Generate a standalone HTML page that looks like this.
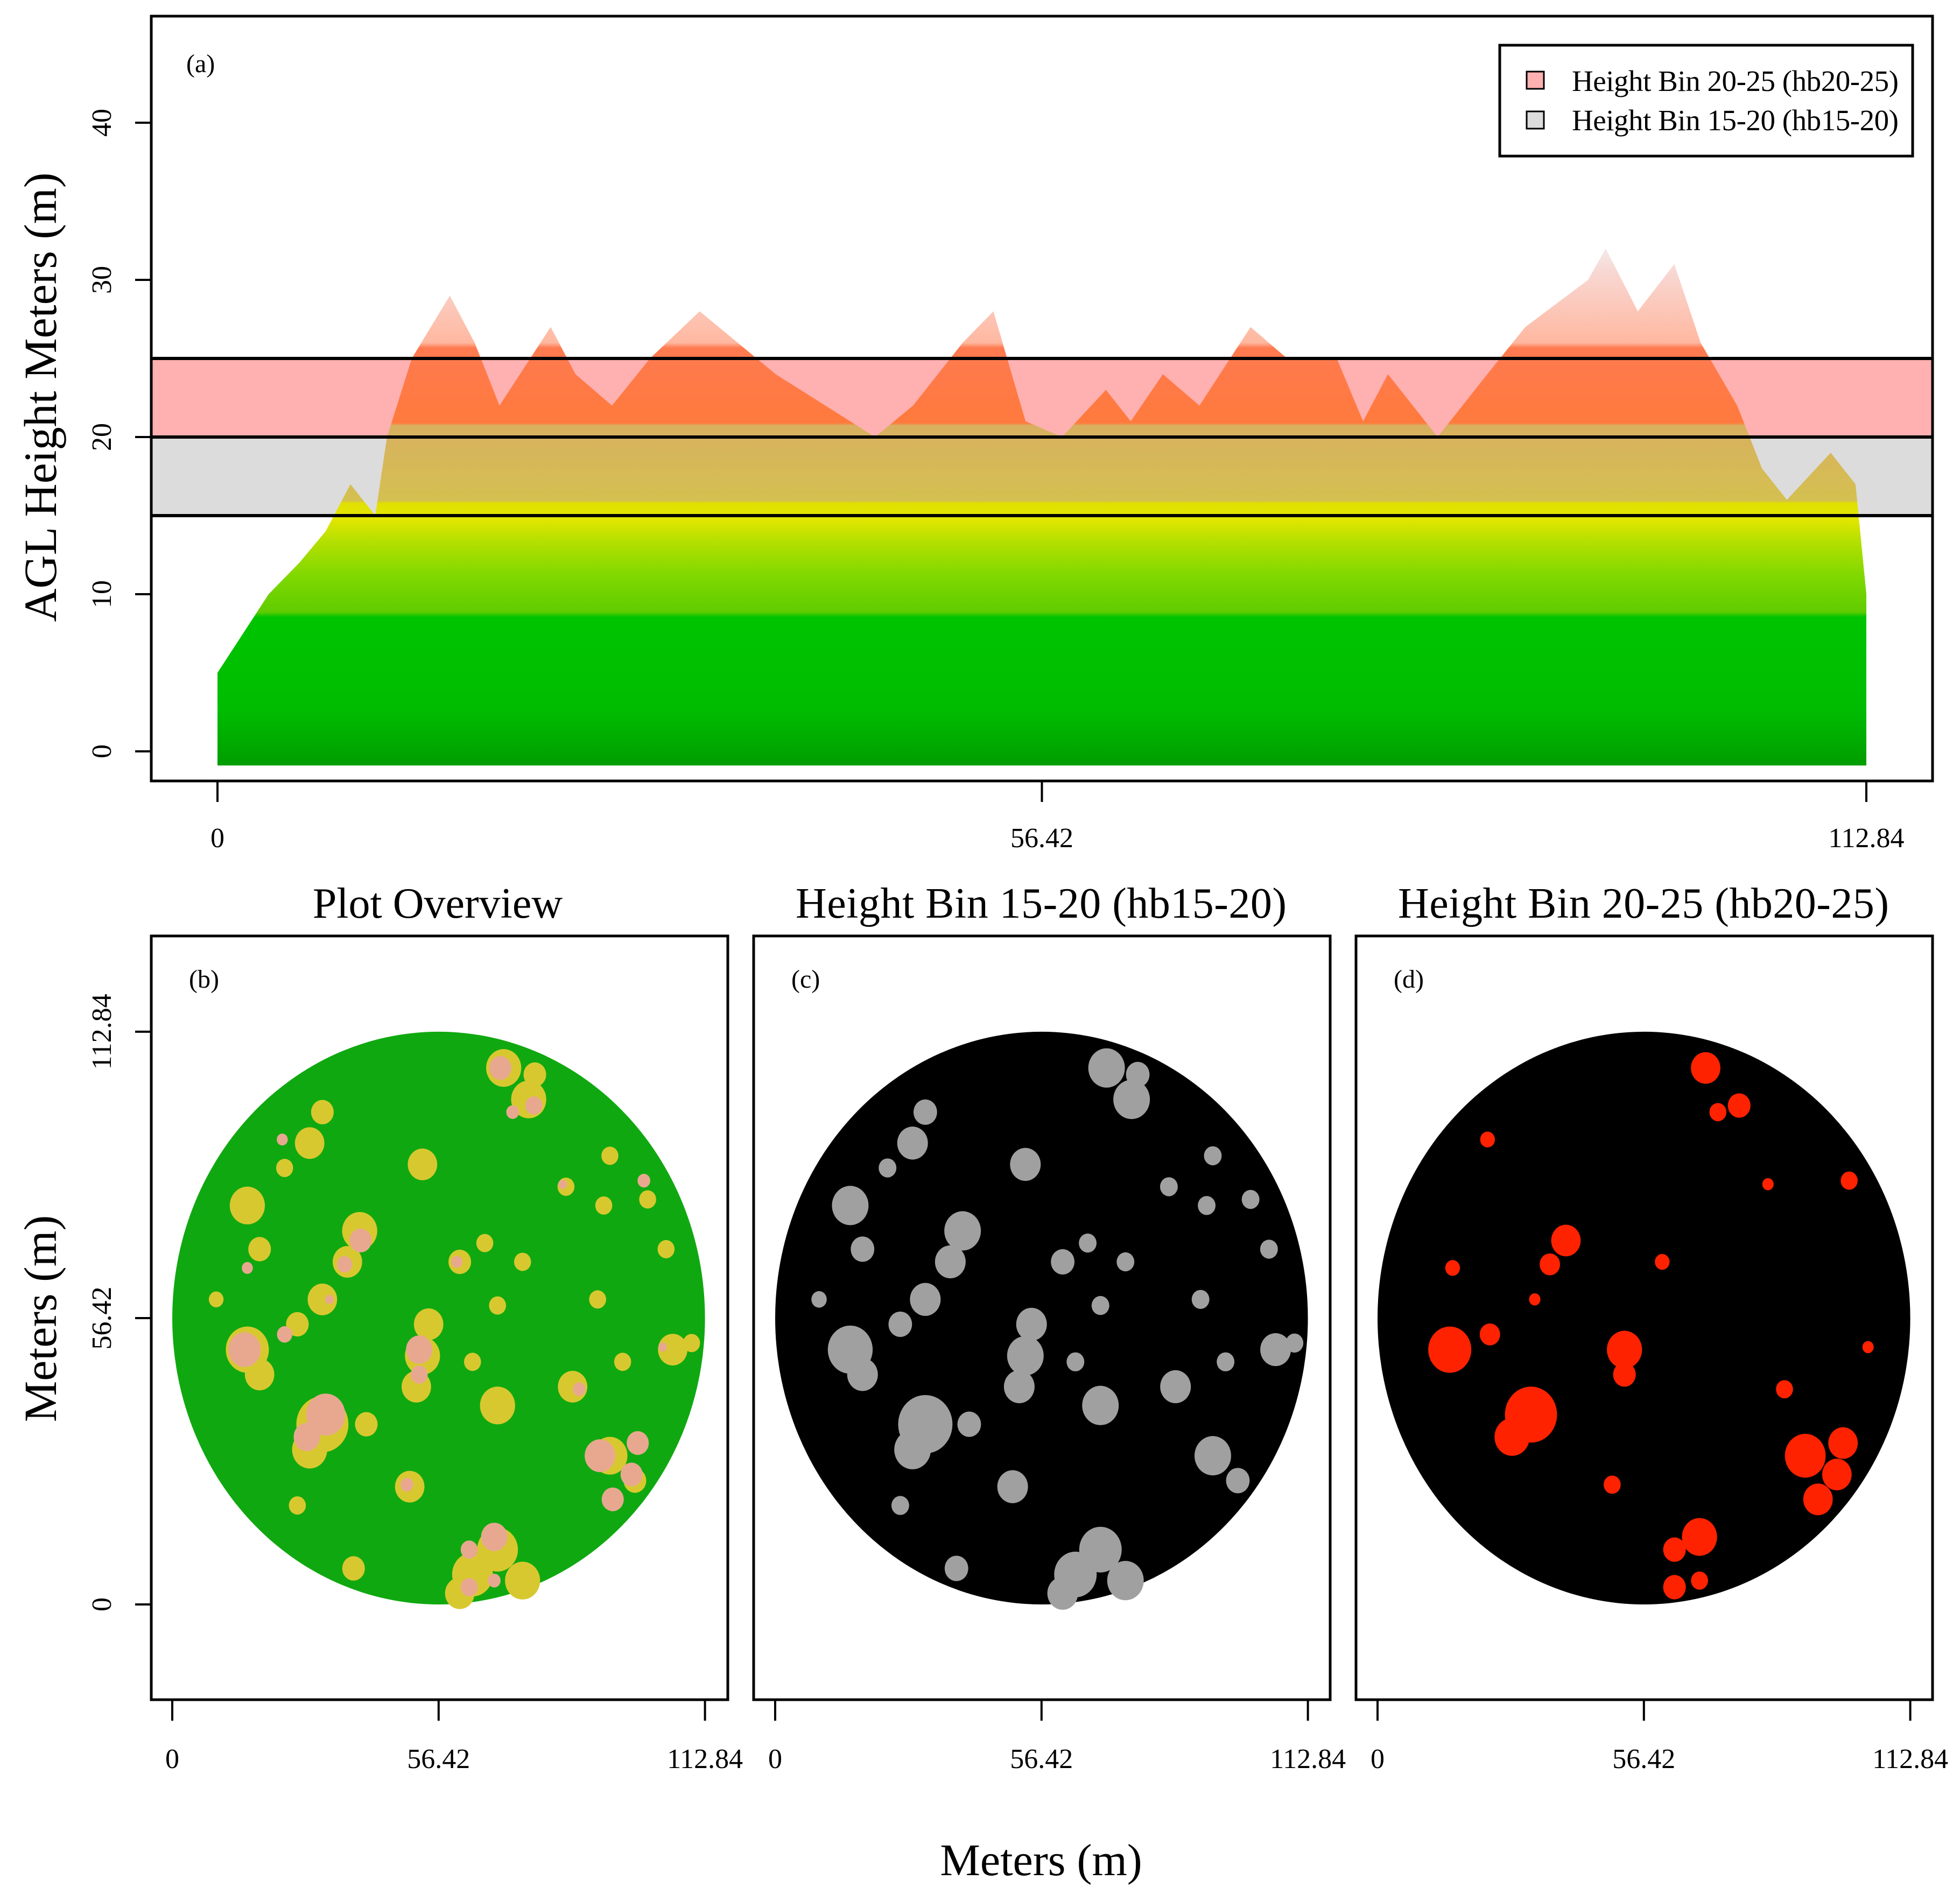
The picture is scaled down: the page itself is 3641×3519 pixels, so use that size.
<!DOCTYPE html>
<html><head><meta charset="utf-8"><style>
html,body{margin:0;padding:0;background:#fff;}
svg{display:block;font-family:"Liberation Serif",serif;}
</style></head><body>
<svg id="fig" xmlns="http://www.w3.org/2000/svg" width="3641" height="3519" viewBox="0 0 3641 3519">
<defs>
<linearGradient id="hgrad" gradientUnits="userSpaceOnUse" x1="0" y1="1416" x2="0" y2="454">
<stop offset="0" stop-color="#009e00"/>
<stop offset="0.03" stop-color="#00a800"/>
<stop offset="0.1" stop-color="#00bc00"/>
<stop offset="0.28" stop-color="#00c400"/>
<stop offset="0.29" stop-color="#60cc00"/>
<stop offset="0.36" stop-color="#80d800"/>
<stop offset="0.43" stop-color="#b8e000"/>
<stop offset="0.47" stop-color="#e4e600"/>
<stop offset="0.5" stop-color="#e0e000"/>
<stop offset="0.505" stop-color="#d4c050"/>
<stop offset="0.65" stop-color="#d8b060"/>
<stop offset="0.655" stop-color="#ff7a3c"/>
<stop offset="0.8" stop-color="#ff7a50"/>
<stop offset="0.81" stop-color="#ffb8a0"/>
<stop offset="0.95" stop-color="#f8d8d4"/>
<stop offset="1" stop-color="#f0eeee"/>
</linearGradient>
</defs>

<g>
<rect x="281" y="30" width="3309" height="1421" fill="#fff"/>
<g id="bands"></g>
<g id="profile"></g>
<rect x="281" y="30" width="3309" height="1421" fill="none" stroke="#000" stroke-width="5"/>
<g id="axA"></g>
<text x="346" y="134" font-size="48">(a)</text>
<text transform="translate(104,738) rotate(-90)" text-anchor="middle" font-size="86">AGL Height Meters (m)</text>
<g>
<rect x="2786" y="84" width="767" height="206" fill="#fff" stroke="#000" stroke-width="5"/>
<rect x="2836" y="133" width="32" height="32" fill="#ffb0b0" stroke="#000" stroke-width="3"/>
<text x="2920" y="169" font-size="55" textLength="607">Height Bin 20-25 (hb20-25)</text>
<rect x="2836" y="207" width="32" height="32" fill="#dcdcdc" stroke="#000" stroke-width="3"/>
<text x="2920" y="242" font-size="55" textLength="607">Height Bin 15-20 (hb15-20)</text>
</g>
</g>

<text x="813" y="1705" text-anchor="middle" font-size="80">Plot Overview</text>
<text x="1934" y="1705" text-anchor="middle" font-size="80" textLength="912">Height Bin 15-20 (hb15-20)</text>
<text x="3053" y="1705" text-anchor="middle" font-size="80" textLength="912">Height Bin 20-25 (hb20-25)</text>
<g id="panels"></g>
<text transform="translate(104,2450) rotate(-90)" text-anchor="middle" font-size="86">Meters (m)</text>
<text x="1934" y="3484" text-anchor="middle" font-size="84">Meters (m)</text>
</svg>
<script>
const profX = [0,1.4,3.5,5.6,7.4,9.1,10.8,11.6,13.3,15.9,17.6,19.3,22.8,24.5,27,29.6,33,35.6,38.2,41.6,45,47.6,51,53.1,55.3,57.8,60.8,62.5,64.7,67.2,70.7,73.2,76.6,78.4,80.1,83.5,86.9,89.5,93.8,95,97.2,99.7,101.5,104,105.7,107.4,110.4,112.1,112.84];
const profH = [5,7,10,12,14,17,15,20,25,29,26,22,27,24,22,25,28,26,24,22,20,22,26,28,21,20,23,21,24,22,27,25,25,21,24,20,24,27,30,32,28,31,26,22,18,16,19,17,10];
const groundH = -0.9;
const binLow = [20,15];
const binHigh = [25,20];
const binColors = ['#ffb0b0','#dcdcdc'];
const yTicks = [0,10,20,30,40];
const xTickVals = [0,56.42,112.84];
const xTickLabels = ['0','56.42','112.84'];
const hb20X = [69.5,76.6,72.1,23.3,39.9,36.5,15.9,60.3,99.9,82.7,15.3,23.8,52.3,52.3,32.5,28.5,90.6,97.3,98.6,93.3,86.2,49.7,68.2,62.9,62.9,68.2,103.9,33.3];
const hb20Y = [105.7,98.3,97.0,91.6,71.7,67.0,66.3,67.5,83.5,82.8,50.2,53.2,50.2,45.3,37.4,33.0,29.3,25.6,31.8,20.7,42.4,23.6,13.3,10.8,3.4,4.7,50.7,60.1];
const hb20R = [2.6,2.0,1.5,1.3,2.6,1.8,1.3,1.3,1.5,1.0,3.8,1.8,3.1,2.0,4.6,3.1,3.6,2.6,2.6,2.6,1.5,1.5,3.1,2.0,2.0,1.5,1.0,1.0];
const hb15X = [70.2,75.5,76.8,53.0,66.2,31.8,29.1,23.8,15.9,18.5,39.7,37.1,31.8,26.5,15.9,18.5,54.3,53.0,51.7,60.9,74.2,83.4,92.7,91.4,100.7,104.6,106.0,110.0,84.8,95.4,68.9,31.8,29.1,92.7,98.0,50.3,68.9,63.6,74.2,60.9,38.4,26.5,41.1,63.6,68.9,90.1,9.3];
const hb15Y = [105.7,99.5,104.4,86.7,71.2,97.0,90.9,86.0,78.6,70.0,73.6,67.5,60.1,55.2,50.2,45.3,55.2,49.0,42.9,67.5,67.5,82.3,88.4,78.6,79.8,70.0,50.2,51.5,42.9,47.8,39.2,35.5,30.5,29.3,24.4,23.2,10.8,5.9,4.7,2.2,7.1,19.5,35.5,47.8,58.9,60.1,60.1];
const hb15R = [3.1,3.1,2.0,2.6,1.5,2.0,2.6,1.5,3.1,2.0,3.1,2.6,2.6,2.0,3.8,2.6,2.6,3.1,2.6,2.0,1.5,1.5,1.5,1.5,1.5,1.5,2.6,1.5,2.6,1.5,3.1,4.6,3.1,3.1,2.0,2.6,3.6,3.6,3.1,2.6,2.0,1.5,2.0,1.5,1.5,1.5,1.3];
const plotR = 56.42;

const NS='http://www.w3.org/2000/svg';
function mk(tag, attrs, parent){const e=document.createElementNS(NS,tag);for(const k in attrs)e.setAttribute(k,attrs[k]);parent.appendChild(e);return e;}

const ax = v => 404 + v*(3467-404)/112.84;
const ay = v => 1396 - v*29.2;
const bands = document.getElementById('bands');
for(let i=0;i<binLow.length;i++){
  const r = mk('rect',{x:281,y:ay(binHigh[i]),width:3309,height:ay(binLow[i])-ay(binHigh[i]),fill:binColors[i]},bands);
  
  
}
const prof = document.getElementById('profile');
let d = 'M'+ax(profX[0])+','+ay(groundH);
for(let i=0;i<profX.length;i++) d+=' L'+ax(profX[i])+','+ay(profH[i]);
d += ' L'+ax(profX[profX.length-1])+','+ay(groundH)+' Z';
const pp = mk('path',{d:d,fill:'url(#hgrad)'},prof);


for(let i=0;i<binLow.length;i++){
  for(const v of [binLow[i],binHigh[i]]){
    const l = mk('line',{x1:281,x2:3590,y1:ay(v),y2:ay(v),stroke:'#000','stroke-width':6},bands.parentNode);
    
    
  }
}
const axA = document.getElementById('axA');
yTicks.forEach(v=>{
  const t = mk('line',{x1:251,x2:281,y1:ay(v),y2:ay(v),stroke:'#000','stroke-width':4},axA);
  
  
  const tx = mk('text',{transform:'translate(206,'+ay(v)+') rotate(-90)','text-anchor':'middle','font-size':52},axA);
  tx.textContent = v;
  
  
});
xTickVals.forEach((v,i)=>{
  const t = mk('line',{x1:ax(v),x2:ax(v),y1:1451,y2:1490,stroke:'#000','stroke-width':4},axA);
  
  
  const tx = mk('text',{x:ax(v),y:1574,'text-anchor':'middle','font-size':52},axA);
  tx.textContent = xTickLabels[i];
  
  
});

const panelDefs = [
  {left:281, x0:320, key:'b', name:'overview'},
  {left:1400, x0:1440, key:'c', name:'hb15-20'},
  {left:2519, x0:2559, key:'d', name:'hb20-25'}
];
const pxm = 8.77, pym = 9.43, yb0 = 2981;
const panels = document.getElementById('panels');
panelDefs.forEach((p,pi)=>{
  const g = mk('g',{},panels);
  
  
  const mx = v => p.x0 + v*pxm;
  const my = v => yb0 - v*pym;
  const base = pi===0 ? '#10a810' : '#000';
  const c = mk('ellipse',{cx:mx(plotR),cy:my(plotR),rx:plotR*pxm,ry:plotR*pym,fill:base},g);
  
  
  const drawSet = (X,Y,R,col,nm,scale)=>{
    for(let i=0;i<X.length;i++){
      const e = mk('ellipse',{cx:mx(X[i]),cy:my(Y[i]),rx:R[i]*pxm*scale,ry:R[i]*pym*scale,fill:col},g);
      
      
    }
  };
  if(pi===0){ drawSet(hb15X,hb15Y,hb15R,'#d8c830','crown-overview',1.2); drawSet(hb20X,hb20Y,hb20R,'#e8a890','crown-tall-overview',0.9); }
  if(pi===1) drawSet(hb15X,hb15Y,hb15R,'#a0a0a0','crown-hb15-20',1.25);
  if(pi===2) drawSet(hb20X,hb20Y,hb20R,'#ff2200','crown-hb20-25',1.2);
  const f = mk('rect',{x:p.left,y:1739,width:1071,height:1419,fill:'none',stroke:'#000','stroke-width':5},g);
  
  
  const lb = mk('text',{x:p.left+70,y:1835,'font-size':48},g);
  lb.textContent = '('+p.key+')';
  
  
  xTickVals.forEach((v,i)=>{
    const t = mk('line',{x1:mx(v),x2:mx(v),y1:3158,y2:3197,stroke:'#000','stroke-width':4},g);
    
    
    const tx = mk('text',{x:mx(v),y:3285,'text-anchor':'middle','font-size':52},g);
    tx.textContent = xTickLabels[i];
    
    
  });
  if(pi===0){
    xTickVals.forEach((v,i)=>{
      const t = mk('line',{x1:251,x2:281,y1:my(v),y2:my(v),stroke:'#000','stroke-width':4},g);
      
      
      const tx = mk('text',{transform:'translate(206,'+my(v)+') rotate(-90)','text-anchor':'middle','font-size':52},g);
      tx.textContent = xTickLabels[i];
      
      
    });
  }
});
</script>
</body></html>
